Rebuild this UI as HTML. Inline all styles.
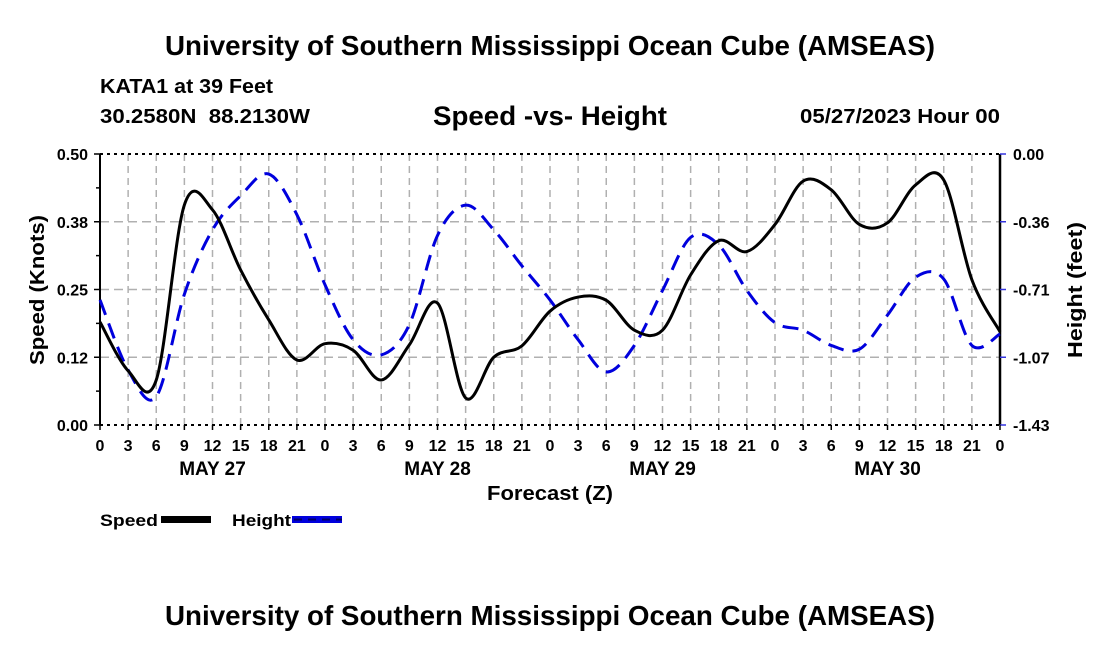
<!DOCTYPE html>
<html><head><meta charset="utf-8"><style>
body{margin:0;background:#fff;}
svg{display:block;font-family:"Liberation Sans",sans-serif;font-weight:bold;}
</style></head><body>
<svg id="chart" width="1100" height="650" viewBox="0 0 1100 650">
<text x="550" y="55" text-anchor="middle" font-size="28" textLength="770" lengthAdjust="spacingAndGlyphs">University of Southern Mississippi Ocean Cube (AMSEAS)</text>
<text x="100" y="93" font-size="20" textLength="173" lengthAdjust="spacingAndGlyphs">KATA1 at 39 Feet</text>
<text x="100" y="123" font-size="20" textLength="210" lengthAdjust="spacingAndGlyphs" xml:space="preserve">30.2580N  88.2130W</text>
<text x="550" y="125" text-anchor="middle" font-size="27" textLength="234" lengthAdjust="spacingAndGlyphs">Speed -vs- Height</text>
<text x="1000" y="123" text-anchor="end" font-size="20" textLength="200" lengthAdjust="spacingAndGlyphs">05/27/2023 Hour 00</text>
<g id="grid"></g>
<g id="axes"></g>
<path id="heightLine" fill="none" stroke="#0000dd" stroke-width="3" stroke-dasharray="16,9"/>
<path id="speedLine" fill="none" stroke="#000" stroke-width="3"/>
<text x="550" y="500" text-anchor="middle" font-size="20" textLength="126" lengthAdjust="spacingAndGlyphs">Forecast (Z)</text>
<text transform="translate(44,290) rotate(-90)" text-anchor="middle" font-size="20" textLength="150" lengthAdjust="spacingAndGlyphs">Speed (Knots)</text>
<text transform="translate(1082,290) rotate(-90)" text-anchor="middle" font-size="20" textLength="136" lengthAdjust="spacingAndGlyphs">Height (feet)</text>
<g>
<text x="100" y="526" font-size="17" textLength="58" lengthAdjust="spacingAndGlyphs">Speed</text>
<rect x="161" y="516" width="50" height="7" fill="#000"/>
<text x="232" y="526" font-size="17" textLength="59" lengthAdjust="spacingAndGlyphs">Height</text>
<rect x="292" y="516" width="50" height="7" fill="#0000dd"/>
<line x1="294" y1="519.5" x2="342" y2="519.5" stroke="#000066" stroke-width="2" stroke-dasharray="8,6"/>
</g>
<text x="550" y="625" text-anchor="middle" font-size="28" textLength="770" lengthAdjust="spacingAndGlyphs">University of Southern Mississippi Ocean Cube (AMSEAS)</text>
</svg>
<script>
const hours = [0,3,6,9,12,15,18,21,24,27,30,33,36,39,42,45,48,51,54,57,60,63,66,69,72,75,78,81,84,87,90,93,96];
const speedValues = [0.19,0.10,0.083,0.406,0.397,0.286,0.194,0.12,0.15,0.138,0.083,0.148,0.225,0.05,0.125,0.146,0.21,0.236,0.23,0.175,0.175,0.277,0.34,0.32,0.37,0.45,0.434,0.37,0.373,0.443,0.452,0.268,0.172];
const heightValues = [-0.77,-1.14,-1.28,-0.74,-0.40,-0.22,-0.106,-0.32,-0.69,-0.98,-1.06,-0.90,-0.43,-0.27,-0.40,-0.59,-0.77,-0.98,-1.15,-1.01,-0.72,-0.44,-0.48,-0.72,-0.89,-0.93,-1.01,-1.03,-0.85,-0.65,-0.66,-1.01,-0.95];
const leftTicks = ["0.00","0.12","0.25","0.38","0.50"];
const rightTicks = ["-1.43","-1.07","-0.71","-0.36","0.00"];
const dayLabels = ["MAY 27","MAY 28","MAY 29","MAY 30"];

const X0=100,X1=1000,Y0=425,Y1=154;
const xs=h=>X0+(h/96)*(X1-X0);
const ys=v=>Y0-(v/0.5)*(Y0-Y1);
const yh=v=>Y0-((v+1.43)/1.43)*(Y0-Y1);
const NS='http://www.w3.org/2000/svg';
function mk(tag,attrs,parent){const e=document.createElementNS(NS,tag);for(const k in attrs)e.setAttribute(k,attrs[k]);parent.appendChild(e);return e;}
const grid=document.getElementById('grid'),axes=document.getElementById('axes');
for(let i=1;i<32;i++){const x=xs(i*3);
 const l=mk('line',{x1:x,y1:Y1,x2:x,y2:Y0,stroke:'#b0b0b0','stroke-width':1.5,'stroke-dasharray':'7,5'},grid);
 
 }
for(let i=1;i<4;i++){const y=Y0-i*(Y0-Y1)/4;
 const l=mk('line',{x1:X0,y1:y,x2:X1,y2:y,stroke:'#b0b0b0','stroke-width':1.5,'stroke-dasharray':'9,5'},grid);
 
 }
[Y1,Y0].forEach(y=>{const l=mk('line',{x1:X0,y1:y,x2:X1,y2:y,stroke:'#000','stroke-width':2,'stroke-dasharray':'3,4'},axes);
 
 });
let a=mk('line',{x1:X0,y1:Y1,x2:X0,y2:Y0,stroke:'#000','stroke-width':2},axes);


a=mk('line',{x1:X1,y1:Y1,x2:X1,y2:Y0,stroke:'#000','stroke-width':2.5},axes);


leftTicks.forEach((t,i)=>{const y=Y0-i*(Y0-Y1)/4;
 mk('line',{x1:X0-6,y1:y,x2:X0,y2:y,stroke:'#000','stroke-width':1.5},axes);
 const tx=mk('text',{x:X0-12,y:y+6,'text-anchor':'end','font-size':16},axes);tx.textContent=t;
 
 });
for(let i=0;i<4;i++){const y=Y0-(i+0.5)*(Y0-Y1)/4;mk('line',{x1:X0-4,y1:y,x2:X0,y2:y,stroke:'#000','stroke-width':1.5},axes);}
rightTicks.forEach((t,i)=>{const y=Y0-i*(Y0-Y1)/4;
 mk('line',{x1:X1,y1:y,x2:X1+6,y2:y,stroke:'#3333dd','stroke-width':1.5},axes);
 const tx=mk('text',{x:X1+13,y:y+6,'font-size':16},axes);tx.textContent=t;
 
 });
for(let i=0;i<=32;i++){const x=xs(i*3);
 mk('line',{x1:x,y1:Y0,x2:x,y2:Y0+5,stroke:'#000','stroke-width':1.5},axes);
 const tx=mk('text',{x:x,y:451,'text-anchor':'middle','font-size':16},axes);tx.textContent=String((i*3)%24);
 
 }
dayLabels.forEach((d,i)=>{const tx=mk('text',{x:xs(i*24+12),y:475,'text-anchor':'middle','font-size':19},axes);tx.textContent=d;
 
 });
function smooth(pts){let d='M'+pts[0][0]+','+pts[0][1];
 for(let i=0;i<pts.length-1;i++){const p0=pts[Math.max(0,i-1)],p1=pts[i],p2=pts[i+1],p3=pts[Math.min(pts.length-1,i+2)];
  d+=' C'+(p1[0]+(p2[0]-p0[0])/6)+','+(p1[1]+(p2[1]-p0[1])/6)+' '+(p2[0]-(p3[0]-p1[0])/6)+','+(p2[1]-(p3[1]-p1[1])/6)+' '+p2[0]+','+p2[1];}
 return d;}
document.getElementById('speedLine').setAttribute('d',smooth(hours.map((h,i)=>[xs(h),ys(speedValues[i])])));
document.getElementById('heightLine').setAttribute('d',smooth(hours.map((h,i)=>[xs(h),yh(heightValues[i])])));
</script>
</body></html>
